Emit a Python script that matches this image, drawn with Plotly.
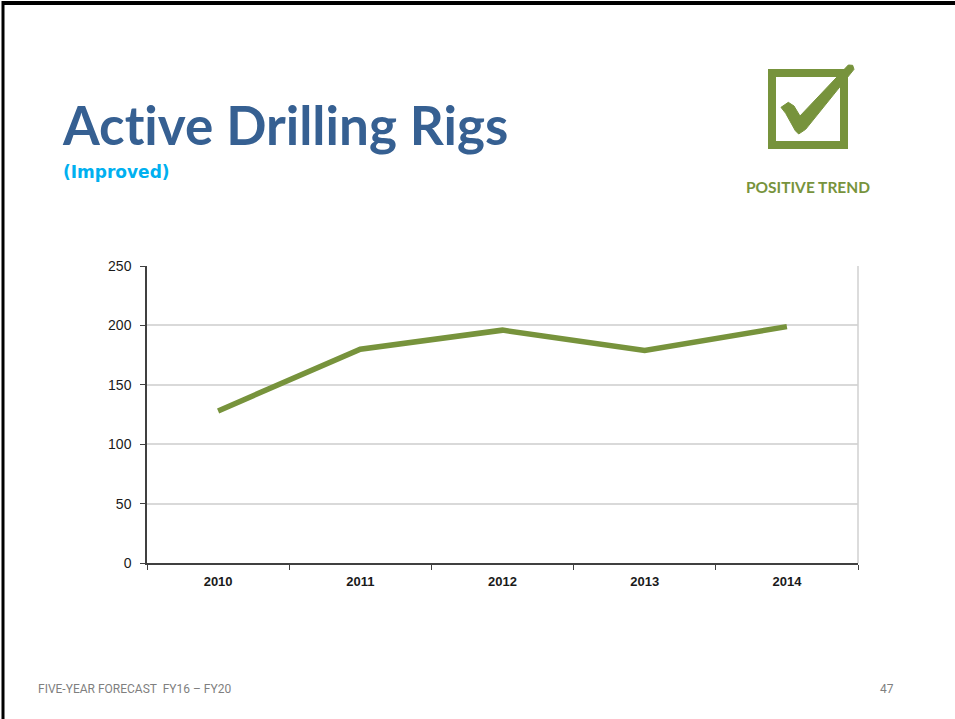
import plotly.graph_objects as go

# Active drilling rigs by year
years = ["2010", "2011", "2012", "2013", "2014"]
rigs = [128, 180, 196, 179, 199]
y_ticks = [0, 50, 100, 150, 200, 250]

W, H = 955, 719
L, R, T, B = 147, 97, 266, 156
PW, PH = W - L - R, H - T - B

GREEN = "#77933C"


def px(x):
    return (x - L) / PW


def py(y):
    return (H - B - y) / PH


fig = go.Figure()
fig.add_trace(go.Scatter(
    x=years, y=rigs, mode="lines",
    line=dict(color=GREEN, width=5.5),
    hoverinfo="x+y", showlegend=False,
))

shapes = []
# slide frame (top and left edges)
shapes.append(dict(type="line", xref="paper", yref="paper",
                   x0=px(2), x1=px(W + 5), y0=py(3), y1=py(3),
                   line=dict(color="black", width=4)))
shapes.append(dict(type="line", xref="paper", yref="paper",
                   x0=px(3), x1=px(3), y0=py(1), y1=py(H + 5),
                   line=dict(color="black", width=3)))
# right edge of plot area
shapes.append(dict(type="line", xref="paper", yref="paper",
                   x0=1, x1=1, y0=0, y1=1,
                   line=dict(color="#d0d0d0", width=1.5)))
# check box
shapes.append(dict(type="rect", xref="paper", yref="paper",
                   x0=px(772), x1=px(844), y0=py(73), y1=py(145),
                   line=dict(color=GREEN, width=8)))
# check mark
pts = [(183, 172), (205, 157), (222, 168), (240, 198), (385, 45), (398, 46),
       (402, 58), (257, 238), (236, 252), (226, 242), (197, 190)]
path = "M " + " L ".join(f"{px(720 + a / 3):.5f},{py(50 + b / 3):.5f}" for a, b in pts) + " Z"
shapes.append(dict(type="path", xref="paper", yref="paper", path=path,
                   fillcolor=GREEN, line=dict(color=GREEN, width=1)))


def label(text, x, y, anchor, family, size, color):
    return dict(text=text, xref="paper", yref="paper", x=px(x), y=py(y),
                xanchor=anchor, yanchor="middle", showarrow=False,
                font=dict(family=family, size=size, color=color))


annotations = [
    label("<b>Active Drilling Rigs</b>".replace("ti", "t\u200ci"), 60, 124, "left",
          "Lato", 53, "#366092"),
    label("<b>(Improved)</b>", 61, 172, "left", "DejaVu Sans", 17, "#00B0F0"),
    label("<b>POSITIVE TREND</b>", 808, 187, "center", "Lato", 15.5, GREEN),
    label("FIVE-YEAR FORECAST  FY16 \u2013 FY20", 36, 689, "left",
          "Liberation Sans Narrow, Roboto", 12, "#7f7f7f"),
    label("47", 896, 689, "right", "Liberation Sans Narrow, Roboto", 12, "#7f7f7f"),
]

fig.update_layout(
    width=W, height=H,
    margin=dict(l=L, r=R, t=T, b=B, pad=0),
    paper_bgcolor="white", plot_bgcolor="white",
    shapes=shapes, annotations=annotations,
    xaxis=dict(
        type="category", range=[-0.5, 4.5], tickson="boundaries",
        showgrid=False, showline=True, linecolor="#404040", linewidth=1.5,
        ticks="outside", ticklen=5, tickcolor="#404040",
        tickfont=dict(family="Liberation Sans", size=13, color="#1a1a1a"),
        tickprefix="<b>", ticksuffix="</b>", ticklabelstandoff=6,
        fixedrange=True,
    ),
    yaxis=dict(
        range=[0, 250], tickvals=y_ticks,
        showgrid=True, gridcolor="#d9d9d9", gridwidth=1.5,
        showline=True, linecolor="#404040", linewidth=1.5,
        ticks="outside", ticklen=5, tickcolor="#404040",
        tickfont=dict(family="Liberation Sans", size=14, color="#1a1a1a"),
        ticklabelstandoff=6, zeroline=False, fixedrange=True,
    ),
)

fig.write_html("out.html")
